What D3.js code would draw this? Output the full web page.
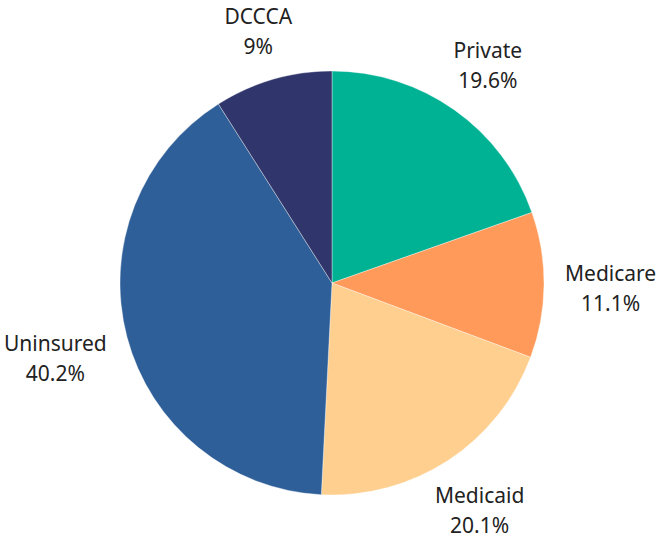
<!DOCTYPE html>
<html><head><meta charset="utf-8">
<script src="https://cdn.jsdelivr.net/npm/d3@7"></script>
<style>body{margin:0;background:#fff}svg{display:block}</style>
</head><body>
<svg id="c" width="660" height="545"></svg>
<script>
const categories = ["Private", "Medicare", "Medicaid", "Uninsured", "DCCCA"];
const values = [19.6, 11.1, 20.1, 40.2, 9];
const valueLabels = ["19.6%", "11.1%", "20.1%", "40.2%", "9%"];
const colors = ["#00B294", "#FF9A5A", "#FECF8E", "#2F5F98", "#30356B"];

const svg = d3.select("#c");
const cx = 332, cy = 283, r = 212;
const g = svg.append("g").attr("transform", `translate(${cx},${cy})`);
const data = categories.map((c, i) => ({cat: c, v: values[i], lab: valueLabels[i], col: colors[i]}));
const pie = d3.pie().sort(null).value(d => d.v);
const arc = d3.arc().innerRadius(0).outerRadius(r);
const arcs = pie(data);
g.selectAll("path").data(arcs).join("path")
  .attr("d", arc).attr("fill", d => d.data.col)
  .attr("stroke", "#fff").attr("stroke-width", 0.6).attr("stroke-opacity", 0.6);

const gap = 21, lh = 30;
arcs.forEach(d => {
  const t = g.append("text").attr("font-family", "'Noto Sans', Lato, sans-serif")
    .attr("font-size", 21).attr("fill", "#222").attr("text-anchor", "middle");
  t.append("tspan").attr("x", 0).attr("dy", 0).text(d.data.cat);
  t.append("tspan").attr("x", 0).attr("dy", lh).text(d.data.lab);
  const bb = t.node().getBBox();
  const w = bb.width, h = 2 * lh;
  const a = (d.startAngle + d.endAngle) / 2;
  const s = Math.sin(a), c = Math.cos(a);
  const dist = r + gap + Math.min((w / 2) / Math.max(Math.abs(s), 1e-6), (h / 2) / Math.max(Math.abs(c), 1e-6));
  const x = dist * s, y = -dist * c;
  t.attr("transform", `translate(${x},${y - lh / 2 + 10})`);
});
</script>
</body></html>
